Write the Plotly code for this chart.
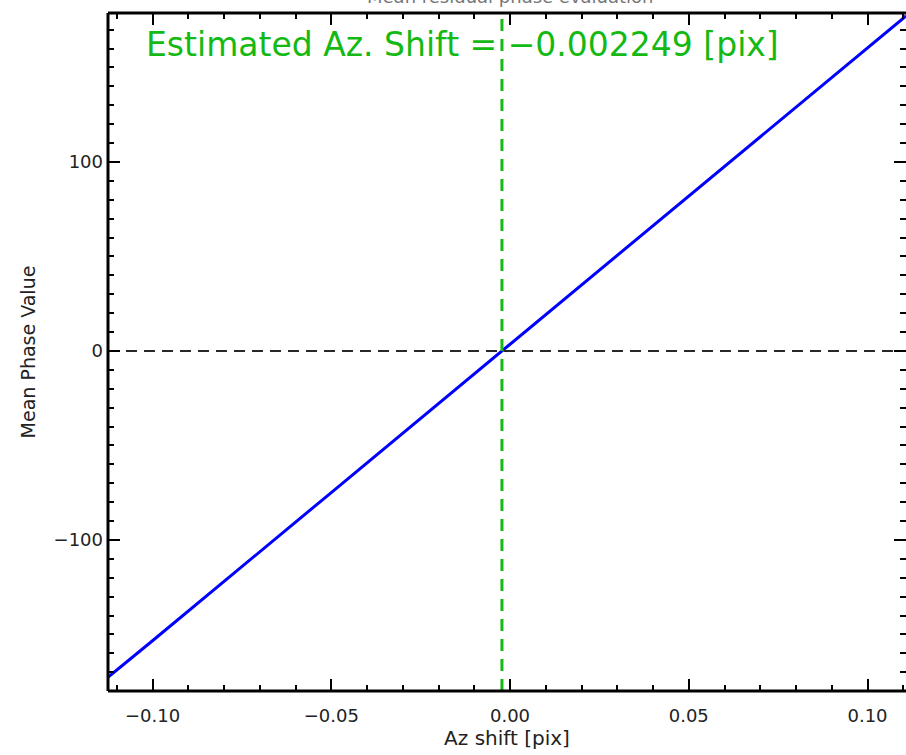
import plotly.graph_objects as go

# Data
az_shift = [-0.1124, -0.10, -0.05, 0.0, 0.05, 0.10, 0.1108]
mean_phase = [-172.5, -153.3, -74.9, 3.5, 81.9, 160.3, 177.3]
est_shift = -0.002249

x_range = [-0.11245, 0.11077]
y_range = [-179.9, 178.8]

x_ticks = [-0.10, -0.05, 0.0, 0.05, 0.10]
x_tick_text = ["−0.10", "−0.05", "0.00", "0.05", "0.10"]
y_ticks = [-100, 0, 100]
y_tick_text = ["−100", "0", "100"]

green = "rgb(20,185,20)"
font_fam = "DejaVu Sans"

fig = go.Figure()
fig.add_trace(go.Scatter(x=az_shift, y=mean_phase, mode="lines",
                         line=dict(color="rgb(0,0,255)", width=3),
                         showlegend=False, hoverinfo="skip"))
# horizontal zero line
fig.add_trace(go.Scatter(x=x_range, y=[0, 0], mode="lines",
                         line=dict(color="rgb(40,40,40)", width=2, dash="11px,7px"),
                         showlegend=False, hoverinfo="skip"))
# estimated shift vertical line
fig.add_trace(go.Scatter(x=[est_shift, est_shift], y=y_range, mode="lines",
                         line=dict(color=green, width=3, dash="12px,8px"),
                         showlegend=False, hoverinfo="skip"))

axis_common = dict(showline=False, mirror="ticks",
                   ticks="inside", tickcolor="black", tickwidth=2, ticklen=12,
                   showgrid=False, zeroline=False,
                   tickfont=dict(family=font_fam, size=18, color="#222"))

fig.update_xaxes(range=x_range, tickvals=x_ticks, ticktext=x_tick_text,
                 minor=dict(dtick=0.01, tick0=0, ticks="inside", ticklen=6, tickwidth=2, tickcolor="black"),
                 title=dict(text="Az shift [pix]", font=dict(family=font_fam, size=20, color="#222"), standoff=4),
                 ticklabelstandoff=12,
                 **axis_common)
fig.update_yaxes(range=y_range, tickvals=y_ticks, ticktext=y_tick_text,
                 minor=dict(dtick=10, tick0=0, ticks="inside", ticklen=6, tickwidth=2, tickcolor="black"),
                 title=dict(text="Mean Phase Value", font=dict(family=font_fam, size=19, color="#222"), standoff=12),
                 ticklabelstandoff=4,
                 **axis_common)

# frame lines (left, top, bottom); the right one lies outside the window
for x0, y0, x1, y1 in [(0, 0, 0, 1), (0, 1, 1, 1), (0, 0, 1, 0)]:
    fig.add_shape(type="line", xref="paper", yref="paper", x0=x0, y0=y0, x1=x1, y1=y1,
                  line=dict(color="black", width=3))

fig.add_annotation(text="Estimated Az. Shift = −0.002249 [pix]", xref="paper", yref="paper",
                   x=0.045, y=1, xanchor="left", yanchor="middle", yshift=-31, showarrow=False,
                   font=dict(family=font_fam, size=33, color=green))
fig.add_annotation(text="Mean residual phase evaluation", xref="paper", yref="paper",
                   x=0.505, y=1, xanchor="center", yanchor="bottom", yshift=4, showarrow=False,
                   font=dict(family=font_fam, size=18, color="#777"))

fig.update_layout(width=906, height=755, margin=dict(l=108, r=0, t=13, b=64),
                  paper_bgcolor="white", plot_bgcolor="white")

fig.write_html("out.html")
